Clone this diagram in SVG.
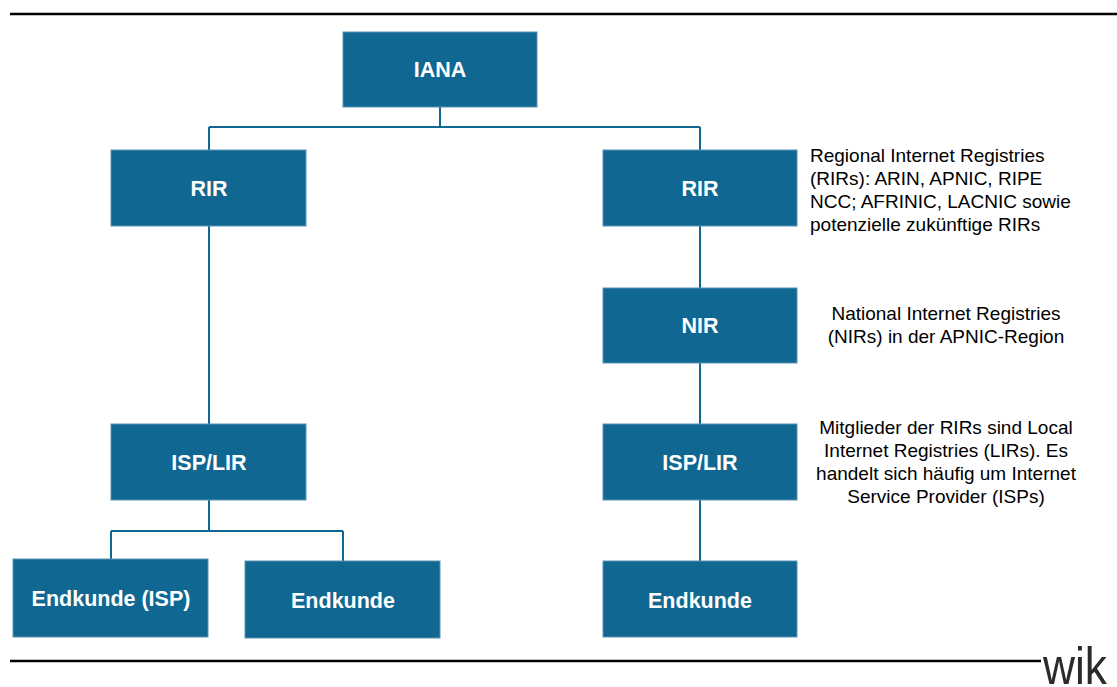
<svg xmlns="http://www.w3.org/2000/svg" width="1117" height="687" viewBox="0 0 1117 687">
<style>
.box{fill:#106892;stroke:#5a93b3;stroke-width:1}
.lbl{font-family:"Liberation Sans",Arial,sans-serif;font-weight:bold;font-size:21.5px;fill:#ffffff;text-anchor:middle}
.note{font-family:"Liberation Sans",Arial,sans-serif;font-size:19px;fill:#000000}
.mid{text-anchor:middle}
.c{fill:none;stroke:#106892;stroke-width:2}
.rule{stroke:#000000;stroke-width:2.5}
</style>
<rect width="1117" height="687" fill="#ffffff"/>
<line class="rule" x1="10" y1="14" x2="1117" y2="14"/>
<line class="rule" x1="10" y1="661" x2="1041" y2="661"/>
<text x="1043" y="684" font-family="'Liberation Sans',Arial,sans-serif" font-size="52" fill="#2b2b2b" textLength="64" lengthAdjust="spacingAndGlyphs">wik</text>
<g id="connectors">
<path class="c" d="M440,107 V127 M209,127 H700 M209,127 V150 M700,127 V150"/>
<path class="c" d="M209,226 V424"/>
<path class="c" d="M700,226 V288 M700,363 V424 M700,500 V561"/>
<path class="c" d="M209,500 V531 M111,531 H343 M111,531 V559 M343,531 V561"/>
</g>
<g id="iana"><rect class="box" x="343" y="32" width="194" height="75"/><text class="lbl" x="440" y="77">IANA</text></g>
<g id="rir-left"><rect class="box" x="111" y="150" width="195" height="76"/><text class="lbl" x="209" y="196">RIR</text></g>
<g id="rir-right"><rect class="box" x="603" y="150" width="194" height="76"/><text class="lbl" x="700" y="196">RIR</text></g>
<g id="nir"><rect class="box" x="603" y="288" width="194" height="75"/><text class="lbl" x="700" y="333">NIR</text></g>
<g id="isp-left"><rect class="box" x="111" y="424" width="195" height="76"/><text class="lbl" x="209" y="470">ISP/LIR</text></g>
<g id="isp-right"><rect class="box" x="603" y="424" width="194" height="76"/><text class="lbl" x="700" y="470">ISP/LIR</text></g>
<g id="endkunde-isp"><rect class="box" x="13" y="559" width="195" height="78"/><text class="lbl" x="111" y="606">Endkunde (ISP)</text></g>
<g id="endkunde-mid"><rect class="box" x="245" y="561" width="195" height="77"/><text class="lbl" x="343" y="608">Endkunde</text></g>
<g id="endkunde-right"><rect class="box" x="603" y="561" width="194" height="76"/><text class="lbl" x="700" y="608">Endkunde</text></g>
<g id="note-rir">
<text class="note" x="810" y="162">Regional Internet Registries</text>
<text class="note" x="810" y="185">(RIRs): ARIN, APNIC, RIPE</text>
<text class="note" x="810" y="208">NCC; AFRINIC, LACNIC sowie</text>
<text class="note" x="810" y="231">potenzielle zukünftige RIRs</text>
</g>
<g id="note-nir">
<text class="note mid" x="946" y="320">National Internet Registries</text>
<text class="note mid" x="946" y="343">(NIRs) in der APNIC-Region</text>
</g>
<g id="note-lir">
<text class="note mid" x="946" y="434">Mitglieder der RIRs sind Local</text>
<text class="note mid" x="946" y="457">Internet Registries (LIRs). Es</text>
<text class="note mid" x="946" y="480">handelt sich häufig um Internet</text>
<text class="note mid" x="946" y="503">Service Provider (ISPs)</text>
</g>
</svg>
